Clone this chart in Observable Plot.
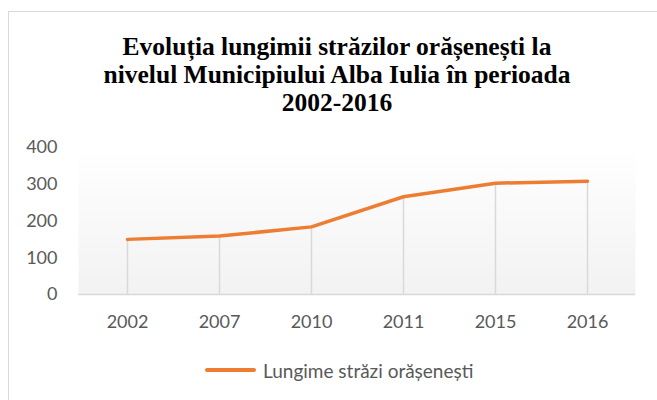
<!DOCTYPE html>
<html>
<head>
<meta charset="utf-8">
<script src="https://cdn.jsdelivr.net/npm/d3@7"></script>
<script src="https://cdn.jsdelivr.net/npm/@observablehq/plot@0.6"></script>
<style>
  html, body { margin: 0; padding: 0; background: #fff; overflow: hidden; }
  #wrap { position: relative; width: 657px; height: 400px; overflow: hidden; }
  #border { position: absolute; left: 8px; top: 11px; width: 700px; height: 420px; border: 1.5px solid #d9d9d9; box-sizing: border-box; }
  #title { position: absolute; left: 0; top: 32.5px; width: 674px; text-align: center;
    font-family: "Liberation Serif", "Times New Roman", serif; font-weight: bold; font-size: 25.5px; line-height: 28px; color: #000; }
  #chart { position: absolute; left: 0; top: 130px; }
  #legend { position: absolute; left: 205px; top: 358px; height: 24px; display: flex; align-items: center;
    font-family: Lato, "Open Sans", sans-serif; font-size: 19px; color: #595959; }
  #legend .sw { width: 51px; height: 3.5px; background: #ed7d31; border-radius: 2px; margin-right: 7px; }
</style>
</head>
<body>
<div id="wrap">
  <div id="border"></div>
  <div id="title">Evoluția lungimii străzilor orășenești la<br>nivelul Municipiului Alba Iulia în perioada<br>2002-2016</div>
  <div id="chart"></div>
  <div id="legend"><div class="sw"></div><span id="legtext"></span></div>
</div>
<script>
const years = ["2002", "2007", "2010", "2011", "2015", "2016"];
const values = [150, 159, 184, 266, 303, 308];
const yTicks = [0, 100, 200, 300, 400];
const seriesName = "Lungime străzi orășenești";

const data = years.map((y, i) => ({year: y, value: values[i]}));

const plot = Plot.plot({
  width: 657,
  height: 215,
  marginLeft: 78,
  marginRight: 22,
  marginTop: 17,
  marginBottom: 51,
  style: {fontFamily: "Lato, 'Open Sans', sans-serif", fontSize: "18px", color: "#595959", background: "transparent", overflow: "visible"},
  x: {type: "point", domain: years, padding: 0.5, label: null, tickSize: 0, tickPadding: 21},
  y: {domain: [0, 400], ticks: yTicks, label: null, tickSize: 0, tickPadding: 21},
  marks: [
    Plot.frame({fill: "url(#plotgrad)", stroke: null}),
    Plot.ruleX(data, {x: "year", y1: 0, y2: "value", stroke: "#d9d9d9", strokeWidth: 1.5}),
    Plot.ruleY([0], {stroke: "#d9d9d9", strokeWidth: 1.5}),
    Plot.line(data, {x: "year", y: "value", stroke: "#ed7d31", strokeWidth: 3.5, strokeLinecap: "round", strokeLinejoin: "round"}),
    Plot.axisX({tickSize: 0, tickPadding: 21, fill: "#595959", fontSize: 18}),
    Plot.axisY({ticks: yTicks, tickSize: 0, tickPadding: 21, fill: "#595959", fontSize: 18})
  ]
});

const svg = d3.select(plot);
const defs = svg.insert("defs", ":first-child");
const g = defs.append("linearGradient").attr("id", "plotgrad").attr("x1", 0).attr("y1", 0).attr("x2", 0).attr("y2", 1);
g.append("stop").attr("offset", "0%").attr("stop-color", "#ffffff");
g.append("stop").attr("offset", "100%").attr("stop-color", "#f2f2f2");

document.getElementById("chart").appendChild(plot);
document.getElementById("legtext").textContent = seriesName;
</script>
</body>
</html>
